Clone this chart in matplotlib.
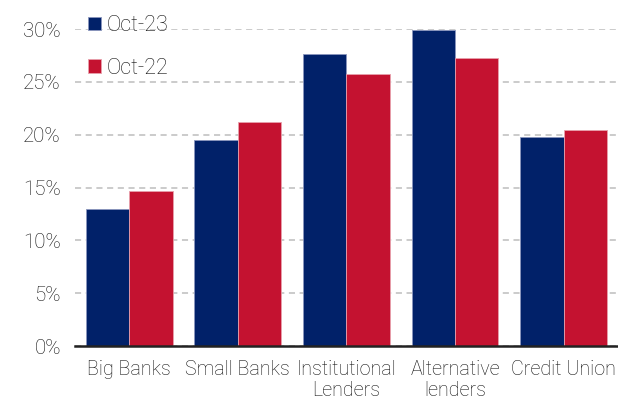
import matplotlib
matplotlib.use("Agg")
import matplotlib.pyplot as plt
import numpy as np
from matplotlib.ticker import FuncFormatter

categories = ["Big Banks", "Small Banks", "Institutional\nLenders", "Alternative\nlenders", "Credit Union"]
oct23 = [13.0, 19.5, 27.6, 29.9, 19.8]
oct22 = [14.7, 21.2, 25.7, 27.3, 20.4]
series_labels = ["Oct-23", "Oct-22"]

NAVY = "#012169"
RED = "#C41230"

plt.rcParams["font.family"] = ["Roboto", "DejaVu Sans"]
plt.rcParams["font.weight"] = "light"

fig = plt.figure(figsize=(6.18, 4.09), dpi=100)
ax = fig.add_axes([0.121, 0.154, 0.879, 0.775])

x = np.arange(len(categories))
w = 0.4
ax.bar(x - w / 2, oct23, w, color=NAVY, edgecolor="#8a96bd", linewidth=0.6,
       label=series_labels[0], zorder=3, clip_on=False)
ax.bar(x + w / 2, oct22, w, color=RED, edgecolor="#e8a0ac", linewidth=0.6,
       label=series_labels[1], zorder=3, clip_on=False)

ax.set_xlim(-0.5, len(categories) - 0.5)
ax.set_ylim(0, 30)
ax.set_yticks(np.arange(0, 31, 5))
ax.yaxis.set_major_formatter(FuncFormatter(lambda v, p: f"{v:.0f}%"))
ax.grid(axis="y", color="#bdbdbd", linestyle=(0, (4, 3)), linewidth=1.1, zorder=0)
ax.set_xticks(x)
ax.set_xticklabels(categories, fontsize=14.2, color="#111111", linespacing=1.15)
ax.tick_params(axis="y", labelsize=14.8, colors="#111111", length=0, pad=10)
ax.tick_params(axis="x", length=0, pad=10)

for s in ["top", "right", "left"]:
    ax.spines[s].set_visible(False)
ax.spines["bottom"].set_color("#222222")
ax.spines["bottom"].set_linewidth(1.8)
ax.spines["bottom"].set_zorder(4)

leg = ax.legend(loc="upper left", bbox_to_anchor=(0.0, 1.085), frameon=False,
                fontsize=15.5, handlelength=0.6, handleheight=0.6, handletextpad=0.3,
                labelspacing=1.0, borderaxespad=0.2)
for t in leg.get_texts():
    t.set_color("#111111")

fig.savefig("out.png", dpi=100)
